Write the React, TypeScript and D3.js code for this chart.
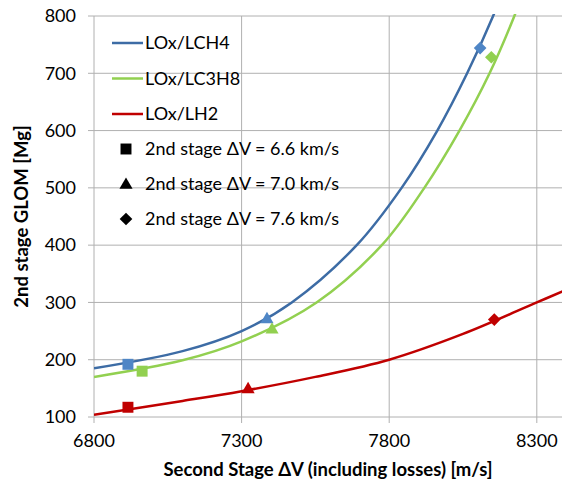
import React from 'react';
import * as d3 from 'd3';

// curve samples: [delta-V m/s, GLOM Mg]
const lch4Curve: [number, number][] = [
  [6800, 185], [7100, 215], [7300, 250], [7470, 300], [7690, 400],
  [7842, 500], [7963, 600], [8064, 700], [8152, 800], [8190, 850],
];
const lc3h8Curve: [number, number][] = [
  [6800, 170], [7100, 199], [7300, 232], [7554, 300], [7775, 400],
  [7919, 500], [8038, 600], [8140, 700], [8224, 800], [8260, 850],
];
const lh2Curve: [number, number][] = [
  [6800, 104], [7100, 128], [7300, 145], [7550, 170], [7800, 200],
  [8050, 245], [8300, 300], [8400, 322],
];

// marker points: square = 6.6, triangle = 7.0, diamond = 7.6 km/s
const lch4Points: [number, number][] = [[6915, 192], [7386, 272], [8108, 744]];
const lc3h8Points: [number, number][] = [[6963, 180], [7403, 254], [8146, 728]];
const lh2Points: [number, number][] = [[6915, 117], [7322, 150], [8156, 270]];

const xTicks = [6800, 7300, 7800, 8300];
const yTicks = [100, 200, 300, 400, 500, 600, 700, 800];

const seriesNames = ['LOx/LCH4', 'LOx/LC3H8', 'LOx/LH2'];
const markerNames = ['2nd stage ΔV = 6.6 km/s', '2nd stage ΔV = 7.0 km/s', '2nd stage ΔV = 7.6 km/s'];

const width = 562;
const height = 483;
const left = 94;
const top = 16;
const bottom = 417;
const font = 'Lato, sans-serif';

const x = d3.scaleLinear().domain([6800, 8400]).range([left, left + (1600 / 500) * 147.6]);
const y = d3.scaleLinear().domain([100, 800]).range([bottom, top]);

const line = d3.line<[number, number]>()
  .x(d => x(d[0]))
  .y(d => y(d[1]))
  .curve(d3.curveCatmullRom.alpha(0.5));

const lineColors = ['#3d6ca5', '#92d050', '#c00000'];
const markColors = ['#4f86c6', '#92d050', '#c00000'];

const squarePath = d3.symbol(d3.symbolSquare, 120)()!;
const trianglePath = d3.symbol(d3.symbolTriangle, 75)()!;
const diamondPath = d3.symbol(d3.symbolSquare, 80)()!;

function Marker({ kind, cx, cy, color }: { kind: number; cx: number; cy: number; color: string }) {
  if (kind === 0) return <path d={squarePath} transform={`translate(${cx},${cy})`} fill={color} />;
  if (kind === 1) return <path d={trianglePath} transform={`translate(${cx},${cy + 1})`} fill={color} />;
  return <path d={diamondPath} transform={`translate(${cx},${cy}) rotate(45)`} fill={color} />;
}

export default function App() {
  const curves = [lch4Curve, lc3h8Curve, lh2Curve];
  const points = [lch4Points, lc3h8Points, lh2Points];

  return (
    <div style={{ position: 'absolute', left: 0, top: 0 }}>
      <svg width={width} height={height} style={{ display: 'block', background: '#fff' }}>
        <defs>
          <clipPath id="plot">
            <rect x={left} y={top - 2} width={width - left} height={bottom - top + 4} />
          </clipPath>
        </defs>

        {/* gridlines */}
        <g stroke="#b0b0b0" strokeWidth={1}>
          {xTicks.map(t => (
            <line key={'gx' + t} x1={x(t)} x2={x(t)} y1={top} y2={bottom + 6} />
          ))}
          {yTicks.map(t => (
            <line key={'gy' + t} x1={left - 6} x2={width} y1={y(t)} y2={y(t)} />
          ))}
        </g>

        {/* tick labels */}
        <g fontFamily={font} fontSize={18} fill="#000">
          {yTicks.map(t => (
            <text key={'ty' + t} x={76} y={y(t)} dy="0.35em" textAnchor="end">{t}</text>
          ))}
          {xTicks.map(t => (
            <text key={'tx' + t} x={x(t)} y={447} textAnchor="middle">{t}</text>
          ))}
        </g>

        {/* axis titles */}
        <text x={(left + width) / 2} y={476} textAnchor="middle" fontFamily={font} fontSize={18.5} fontWeight="bold">
          Second Stage ΔV (including losses) [m/s]
        </text>
        <text transform={`translate(28,${(top + bottom) / 2}) rotate(-90)`} textAnchor="middle"
          fontFamily={font} fontSize={18.5} fontWeight="bold">
          2nd stage GLOM [Mg]
        </text>

        {/* curves */}
        <g clipPath="url(#plot)" fill="none" strokeWidth={2.5}>
          {curves.map((c, i) => (
            <path key={'c' + i} d={line(c)!} stroke={lineColors[i]} />
          ))}
        </g>

        {/* markers */}
        <g>
          {points.map((ps, i) =>
            ps.map((p, k) => (
              <Marker key={`m${i}-${k}`} kind={k} cx={x(p[0])} cy={y(p[1])} color={markColors[i]} />
            ))
          )}
        </g>

        {/* legend */}
        <g fontFamily={font} fontSize={18}>
          {seriesNames.map((n, i) => (
            <g key={n} transform={`translate(112,${43 + i * 35.5})`}>
              <line x1={0} x2={31} y1={0} y2={0} stroke={lineColors[i]} strokeWidth={2.5} />
              <text x={33} y={0} dy="0.35em">{n}</text>
            </g>
          ))}
          {markerNames.map((n, k) => (
            <g key={n} transform={`translate(112,${149 + k * 35})`}>
              <Marker kind={k} cx={14} cy={0} color="#000" />
              <text x={33} y={0} dy="0.35em">{n}</text>
            </g>
          ))}
        </g>
      </svg>
    </div>
  );
}
